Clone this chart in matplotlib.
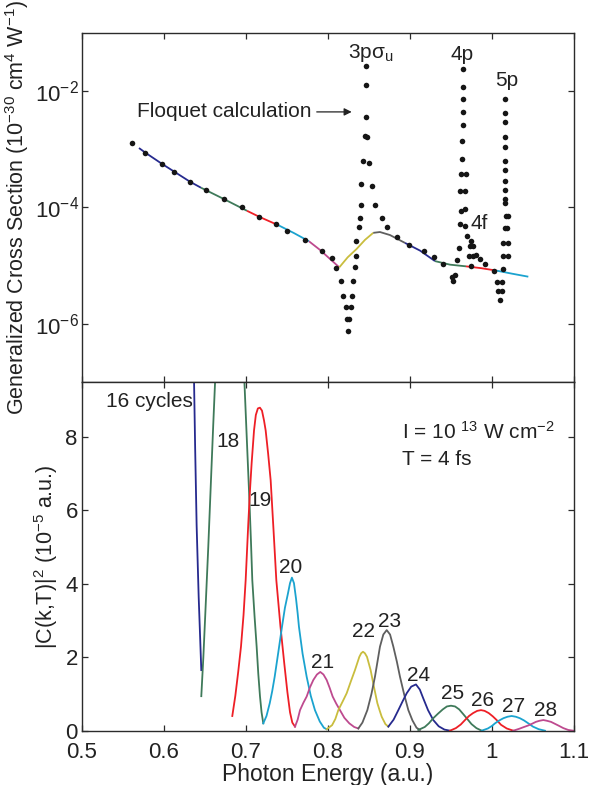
import numpy as np
import matplotlib
matplotlib.use("Agg")
import matplotlib.pyplot as plt
from matplotlib.ticker import FixedLocator, LogFormatterSciNotation, NullLocator

plt.rcParams['font.family'] = ['Liberation Sans', 'DejaVu Sans']
plt.rcParams['mathtext.fontset'] = 'custom'
plt.rcParams['mathtext.rm'] = 'Liberation Sans'
plt.rcParams['mathtext.it'] = 'Liberation Sans:italic'
plt.rcParams['mathtext.sf'] = 'Liberation Sans'

# ---------------- Floquet generalized cross section (log10 of sigma) -------------
floquet_energy = [
    0.5606, 0.5772, 0.5972, 0.6126, 0.6317, 0.6508, 0.6732, 0.6947, 0.7163, 0.7366,
    0.7504, 0.7720, 0.7923, 0.8052, 0.8098,
    0.8159, 0.8183, 0.8216, 0.8228, 0.8244,
    0.8260, 0.8277, 0.8289, 0.8301, 0.8326, 0.8338, 0.8341, 0.8374, 0.8387, 0.8406,
    0.8406, 0.8427, 0.8455, 0.8463, 0.8460, 0.8460,
    0.8472, 0.8496, 0.8533, 0.8573, 0.8659, 0.8720, 0.8838, 0.8988, 0.9174, 0.9289,
    0.9402,
    0.9512, 0.9528, 0.9553, 0.9577, 0.9594, 0.9610, 0.9622, 0.9614, 0.9626, 0.9638,
    0.9638, 0.9650, 0.9643, 0.9643, 0.9643, 0.9643,
    0.9679, 0.9674, 0.9674, 0.9674, 0.9691, 0.9744, 0.9735, 0.9768, 0.9720, 0.9765,
    0.9805, 0.9854, 0.9915, 0.9744,
    1.0024, 1.0065, 1.0073, 1.0098, 1.0118, 1.0118, 1.0138,
    1.0130, 1.0138, 1.0162, 1.0174, 1.0162, 1.0162, 1.0162, 1.0162, 1.0162, 1.0162,
    1.0162, 1.0162, 1.0162, 1.0159, 1.0159,
    1.0195, 1.0183, 1.0195, 1.0195,
]
floquet_log_sigma = [
    -2.897, -3.057, -3.247, -3.385, -3.557, -3.701, -3.856, -4.000, -4.161, -4.282,
    -4.397, -4.564, -4.753, -4.867, -5.040,
    -5.259, -5.529, -5.707, -5.914, -6.121,
    -5.914, -5.707, -5.529, -5.259, -5.017, -4.840, -4.581, -4.340, -4.178, -3.960,
    -3.603, -3.202, -2.771, -2.453, -1.897, -1.564,
    -2.781, -3.229, -3.638, -3.960, -4.178, -4.340, -4.500, -4.638, -4.753, -4.857,
    -4.971,
    -5.201, -5.264, -5.155, -4.902, -4.695, -4.281, -4.057, -3.724, -3.426, -3.160,
    -2.862, -2.586, -2.362, -2.143, -1.926, -1.621,
    -3.426, -3.724, -4.034, -4.310, -4.495, -4.569, -4.667, -4.667, -4.828, -4.828,
    -4.810, -4.884, -4.978, -5.000,
    -5.086, -5.288, -5.431, -5.586, -5.431, -5.288, -5.057,
    -4.828, -4.616, -4.357, -4.138, -3.931, -3.857, -3.702, -3.552, -3.362, -3.207,
    -2.966, -2.781, -2.522, -2.379, -2.138,
    -4.138, -4.357, -4.616, -4.828,
]

# ---------------- Cross section extracted from the wave-packet runs --------------
segment_energy = [
    [0.5695, 0.5772, 0.5972, 0.6126, 0.6317, 0.6451],
    [0.6451, 0.6732, 0.7012],
    [0.7012, 0.7163, 0.7402],
    [0.7402, 0.7585, 0.7768],
    [0.7768, 0.7902, 0.8138],
    [0.8138, 0.8240, 0.8350, 0.8451, 0.8552],
    [0.8552, 0.8634, 0.8756, 0.8939],
    [0.8939, 0.9122, 0.9305],
    [0.9305, 0.9488, 0.9683],
    [0.9683, 0.9866, 1.0057],
    [1.0057, 1.0244, 1.0443],
]
segment_log_sigma = [
    [-2.978, -3.057, -3.247, -3.385, -3.557, -3.660],
    [-3.660, -3.856, -4.057],
    [-4.057, -4.161, -4.310],
    [-4.310, -4.440, -4.581],
    [-4.581, -4.729, -5.029],
    [-5.029, -4.857, -4.712, -4.557, -4.436],
    [-4.436, -4.422, -4.474, -4.609],
    [-4.609, -4.741, -4.922],
    [-4.922, -4.983, -5.012],
    [-5.012, -5.043, -5.086],
    [-5.086, -5.138, -5.190],
]

# ---------------- |C(k,T)|^2 for each pulse length (cycles) -----------------------
cycles = [16, 18, 18, 19, 20, 21, 22, 23, 24, 25, 26, 27, 28]
pulse_energy = [
    [0.6366, 0.6380, 0.6398, 0.6423, 0.6455],
    [0.6455, 0.6480, 0.6504, 0.6540, 0.6573, 0.6600, 0.6625],
    [0.6979, 0.7010, 0.7040, 0.7060, 0.7077, 0.7105, 0.7130, 0.7150, 0.7171, 0.7190,
     0.7211],
    [0.6833, 0.6870, 0.6905, 0.6939, 0.6970, 0.6996, 0.7028, 0.7050, 0.7069, 0.7098,
     0.7120, 0.7145, 0.7170, 0.7195, 0.7220, 0.7240, 0.7270, 0.7301, 0.7335, 0.7370,
     0.7420, 0.7467, 0.7505, 0.7537, 0.7565, 0.7598],
    [0.7211, 0.7250, 0.7290, 0.7320, 0.7350, 0.7395, 0.7439, 0.7475, 0.7512, 0.7537,
     0.7560, 0.7585, 0.7610, 0.7630, 0.7646, 0.7690, 0.7740, 0.7790, 0.7841, 0.7900,
     0.7950, 0.7984],
    [0.7598, 0.7630, 0.7659, 0.7700, 0.7740, 0.7780, 0.7821, 0.7865, 0.7906, 0.7945,
     0.7984, 0.8020, 0.8057, 0.8100, 0.8146, 0.8200, 0.8260, 0.8320, 0.8370],
    [0.7984, 0.8050, 0.8090, 0.8126, 0.8180, 0.8228, 0.8280, 0.8329, 0.8382, 0.8405,
     0.8427, 0.8450, 0.8476, 0.8520, 0.8560, 0.8602, 0.8630, 0.8655, 0.8700, 0.8736],
    [0.8370, 0.8420, 0.8480, 0.8530, 0.8573, 0.8605, 0.8634, 0.8675, 0.8716, 0.8757,
     0.8797, 0.8840, 0.8878, 0.8930, 0.8980, 0.9030, 0.9080, 0.9122],
    [0.8736, 0.8800, 0.8858, 0.8910, 0.8960, 0.9015, 0.9073, 0.9120, 0.9162, 0.9220,
     0.9284, 0.9350, 0.9420, 0.9488],
    [0.9101, 0.9180, 0.9230, 0.9284, 0.9340, 0.9400, 0.9450, 0.9500, 0.9550, 0.9600,
     0.9650, 0.9691, 0.9750, 0.9810, 0.9874],
    [0.9488, 0.9560, 0.9620, 0.9671, 0.9720, 0.9770, 0.9820, 0.9866, 0.9910, 0.9960,
     1.0010, 1.0057, 1.0110, 1.0180, 1.0260],
    [0.9874, 0.9950, 1.0000, 1.0037, 1.0090, 1.0140, 1.0190, 1.0240, 1.0290, 1.0340,
     1.0390, 1.0443, 1.0500, 1.0570, 1.0646],
    [1.0260, 1.0330, 1.0390, 1.0440, 1.0490, 1.0535, 1.0580, 1.0626, 1.0670, 1.0720,
     1.0765, 1.0810, 1.0870, 1.0930, 1.0991],
]
pulse_prob = [
    [9.6, 7.70, 5.6, 3.65, 1.65],
    [0.94, 2.00, 3.19, 5.00, 6.82, 8.30, 9.6],
    [9.6, 7.95, 6.37, 5.20, 4.10, 3.10, 2.29, 1.55, 0.93, 0.50, 0.20],
    [0.40, 0.95, 1.60, 2.29, 3.15, 4.10, 5.64, 6.60, 7.29, 8.18,
     8.60, 8.78, 8.80, 8.72, 8.45, 8.18, 7.55, 6.82, 5.50, 4.10,
     2.85, 1.83, 1.05, 0.50, 0.22, 0.11],
    [0.20, 0.40, 0.75, 1.08, 1.47, 2.15, 2.83, 3.35, 3.74, 4.02,
     4.17, 4.02, 3.60, 3.20, 2.83, 2.10, 1.47, 0.95, 0.56, 0.25,
     0.08, 0.04],
    [0.11, 0.30, 0.56, 0.76, 0.93, 1.18, 1.38, 1.53, 1.60, 1.53,
     1.38, 1.17, 0.93, 0.74, 0.56, 0.35, 0.20, 0.10, 0.06],
    [0.04, 0.15, 0.32, 0.56, 0.80, 1.02, 1.35, 1.65, 2.01, 2.11,
     2.15, 2.11, 2.01, 1.65, 1.20, 0.75, 0.55, 0.38, 0.18, 0.11],
    [0.06, 0.22, 0.56, 1.00, 1.47, 1.90, 2.29, 2.62, 2.74, 2.62,
     2.29, 1.88, 1.47, 0.98, 0.56, 0.28, 0.08, 0.02],
    [0.11, 0.30, 0.56, 0.80, 1.02, 1.20, 1.26, 1.12, 0.88, 0.56,
     0.29, 0.12, 0.03, 0.00],
    [0.02, 0.10, 0.20, 0.34, 0.46, 0.58, 0.66, 0.68, 0.66, 0.58,
     0.45, 0.34, 0.18, 0.07, 0.00],
    [0.00, 0.07, 0.17, 0.29, 0.40, 0.48, 0.54, 0.56, 0.54, 0.48,
     0.39, 0.29, 0.16, 0.06, 0.00],
    [0.00, 0.06, 0.13, 0.20, 0.28, 0.34, 0.38, 0.40, 0.38, 0.34,
     0.28, 0.20, 0.11, 0.04, 0.00],
    [0.00, 0.05, 0.10, 0.14, 0.19, 0.24, 0.27, 0.29, 0.27, 0.24,
     0.19, 0.14, 0.07, 0.02, 0.00],
]
cycle_labels = ['16 cycles', '18', '19', '20', '21', '22', '23', '24', '25', '26', '27', '28']

# colour of each pulse length, reused for the cross-section pieces
NAVY, GREEN, RED, CYAN = '#262a8e', '#3f7a5a', '#ee1f26', '#1ba3cf'
MAGENTA, YELLOW, GRAY = '#be4a8f', '#c9bd3e', '#5f5f5f'
pulse_colors = [NAVY, GREEN, GREEN, RED, CYAN, MAGENTA, YELLOW, GRAY,
                NAVY, GREEN, RED, CYAN, MAGENTA]
segment_colors = [NAVY, GREEN, RED, CYAN, MAGENTA, YELLOW, GRAY,
                  NAVY, GREEN, RED, CYAN]

TICK_FS = 16
LABEL_FS = 16.5
YLABEL_FS = 15.5
TEXT_FS = 15
SPINE = '#2b2b2b'
INK = '#222222'

fig = plt.figure(figsize=(5.89, 7.85), dpi=100)
ax1 = fig.add_axes([0.1392, 0.5134, 0.8353, 0.4446])
ax2 = fig.add_axes([0.1392, 0.0692, 0.8353, 0.4442])

for ax in (ax1, ax2):
    for sp in ax.spines.values():
        sp.set_color(SPINE)
        sp.set_linewidth(1.0)
    ax.tick_params(direction='in', which='both', top=True, right=True,
                   length=4, width=0.9, color=SPINE, labelsize=TICK_FS,
                   labelcolor=INK)
    ax.set_xlim(0.5, 1.1)
    ax.xaxis.set_major_locator(FixedLocator([0.5, 0.6, 0.7, 0.8, 0.9, 1.0, 1.1]))

# ---- upper panel ----
ax1.set_yscale('log')
ax1.set_ylim(1e-7, 1e-1)
ax1.yaxis.set_major_locator(FixedLocator([1e-6, 1e-4, 1e-2]))
ax1.yaxis.set_major_formatter(LogFormatterSciNotation())
ax1.yaxis.set_minor_locator(NullLocator())
ax1.tick_params(labelbottom=False)
ax1.tick_params(axis='y', pad=2)

for xs, ls, c in zip(segment_energy, segment_log_sigma, segment_colors):
    ax1.plot(xs, 10.0 ** np.array(ls), color=c, lw=1.3, solid_capstyle='butt')

ax1.plot(floquet_energy, 10.0 ** np.array(floquet_log_sigma), 'o',
         color='#151515', ms=4.0, mec='none')

ax1.text(0.8244, 10 ** -1.43, '3pσ$_{\\mathrm{u}}$', fontsize=TEXT_FS,
         ha='left', va='baseline', color=INK)
ax1.text(0.9500, 10 ** -1.47, '4p', fontsize=TEXT_FS, ha='left', va='baseline',
         color=INK)
ax1.text(1.0037, 10 ** -1.92, '5p', fontsize=TEXT_FS, ha='left', va='baseline',
         color=INK)
ax1.text(0.9732, 10 ** -4.37, '4f', fontsize=TEXT_FS, ha='left', va='baseline',
         color=INK)
ax1.annotate('Floquet calculation', xy=(0.8289, 10 ** -2.357),
             xytext=(0.5667, 10 ** -2.357), fontsize=TEXT_FS, ha='left',
             va='center', color=INK,
             arrowprops=dict(arrowstyle='-|>', color=INK, lw=0.9,
                             mutation_scale=11, shrinkA=2, shrinkB=0))
ax1.set_ylabel('Generalized Cross Section (10$^{-30}$ cm$^{4}$ W$^{-1}$)',
               fontsize=YLABEL_FS, color=INK)
ax1.yaxis.set_label_coords(-0.104, 0.5)

# ---- lower panel ----
ax2.set_ylim(0, 9.5)
ax2.yaxis.set_major_locator(FixedLocator([0, 2, 4, 6, 8]))
ax2.set_xticklabels(['0.5', '0.6', '0.7', '0.8', '0.9', '1', '1.1'])
ax2.tick_params(axis='x', pad=8.5)
ax2.tick_params(axis='y', pad=3)

for xs, ps, c in zip(pulse_energy, pulse_prob, pulse_colors):
    ax2.plot(xs, ps, color=c, lw=1.3)

label_pos = [(0.5817, 8.97), (0.6780, 7.88), (0.7170, 6.28), (0.7550, 4.45),
             (0.7933, 1.86), (0.8439, 2.69), (0.8756, 2.97), (0.9110, 1.50),
             (0.9518, 1.00), (0.9890, 0.82), (1.0268, 0.66), (1.0659, 0.56)]
for text, (x, y) in zip(cycle_labels, label_pos):
    ax2.text(x, y, text, fontsize=TEXT_FS, ha='center', va='center', color=INK)

ax2.text(0.8899, 7.95, 'I = 10 $^{13}$ W cm$^{-2}$', fontsize=TEXT_FS,
         ha='left', va='baseline', color=INK)
ax2.text(0.8899, 7.25, 'T = 4 fs', fontsize=TEXT_FS, ha='left',
         va='baseline', color=INK)

ax2.set_xlabel('Photon Energy (a.u.)', fontsize=LABEL_FS, color=INK,
               labelpad=-0.5)
ax2.set_ylabel('|C(k,T)|$^{2}$ (10$^{-5}$ a.u.)', fontsize=YLABEL_FS,
               color=INK)
ax2.yaxis.set_label_coords(-0.045, 0.5)

fig.savefig('out.png', dpi=100)
